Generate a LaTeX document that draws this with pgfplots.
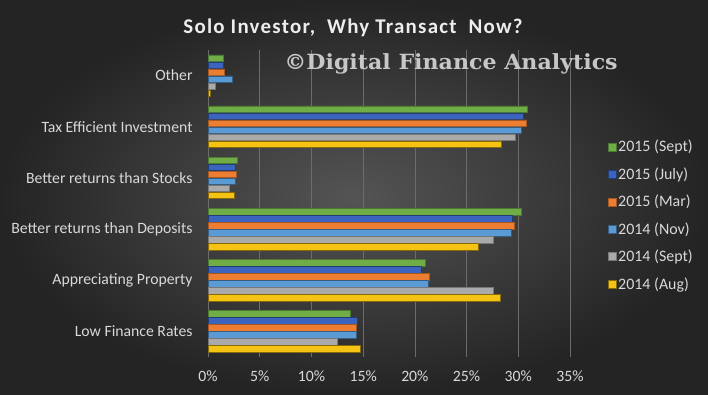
\documentclass[border=0pt]{standalone}
\usepackage{pgfplots}
\pgfplotsset{compat=1.18}
\usepackage{fontspec}
\setmainfont{Carlito}
\newfontfamily\wmfont{DejaVu Serif}
\definecolor{bgIn}{RGB}{84,84,84}
\definecolor{bgOut}{RGB}{36,36,36}
\definecolor{gridc}{RGB}{108,108,108}
\definecolor{labc}{RGB}{217,217,217}
\definecolor{cGreen}{RGB}{112,173,71}
\definecolor{cJuly}{RGB}{58,100,190}
\definecolor{cOrange}{RGB}{237,125,49}
\definecolor{cNov}{RGB}{91,155,213}
\definecolor{cGray}{RGB}{170,170,170}
\definecolor{cYellow}{RGB}{245,195,20}
\begin{document}
\begin{tikzpicture}
\shade[inner color=bgIn, outer color=bgOut] (0,0) rectangle (708bp,395bp);
\useasboundingbox (0,0) rectangle (708bp,395bp);
\begin{axis}[
  at={(208bp,38bp)}, anchor=south west,
  scale only axis, width=362bp, height=307bp,
  xbar, bar width=6.6bp,
  xmin=0, xmax=35, ymin=-0.5, ymax=5.5,
  xtick={0,5,...,35},
  /pgf/number format/assume math mode=true,
  xticklabel={\pgfmathprintnumber{\tick}\%},
  ytick={0,...,5},
  yticklabels={Low Finance Rates, Appreciating Property, Better returns than Deposits, Better returns than Stocks, Tax Efficient Investment, Other},
  xmajorgrids, major grid style={draw=gridc, line width=0.7bp},
  axis line style={draw=none}, tick style={draw=none},
  ticklabel style={font=\fontsize{15.8}{18}\selectfont, text=labc, inner sep=0pt},
  xticklabel style={anchor=north, yshift=-14bp},
  yticklabel style={anchor=east, xshift=-11bp},
  legend style={at={(axis description cs:1.104,0.713)}, anchor=north west, draw=none, fill=none,
    text=labc, font=\fontsize{16}{18}\selectfont, row sep=10.3bp, inner sep=0pt,
    cells={anchor=west}},
  legend image code/.code={\draw[#1, line width=0.4bp] (0bp,-4bp) rectangle (8bp,4bp);},
]
\addplot[fill=cGreen, draw=cGreen!70!black, line width=0.5bp, bar shift=17.5bp] coordinates {(13.8,0) (21.0,1) (30.3,2) (2.8,3) (30.9,4) (1.5,5)};
\addplot[fill=cJuly, draw=cJuly!60!black, line width=0.5bp, bar shift=10.5bp] coordinates {(14.4,0) (20.6,1) (29.4,2) (2.6,3) (30.5,4) (1.5,5)};
\addplot[fill=cOrange, draw=cOrange!70!black, line width=0.5bp, bar shift=3.5bp] coordinates {(14.3,0) (21.4,1) (29.6,2) (2.7,3) (30.8,4) (1.6,5)};
\addplot[fill=cNov, draw=cNov!60!black, line width=0.5bp, bar shift=-3.5bp] coordinates {(14.3,0) (21.3,1) (29.3,2) (2.6,3) (30.3,4) (2.3,5)};
\addplot[fill=cGray, draw=cGray!70!black, line width=0.5bp, bar shift=-10.5bp] coordinates {(12.5,0) (27.6,1) (27.6,2) (2.1,3) (29.7,4) (0.7,5)};
\addplot[fill=cYellow, draw=cYellow!55!black, line width=0.5bp, bar shift=-17.5bp] coordinates {(14.7,0) (28.3,1) (26.1,2) (2.5,3) (28.4,4) (0.2,5)};
\legend{2015 (Sept), 2015 (July), 2015 (Mar), 2014 (Nov), 2014 (Sept), 2014 (Aug)}
\end{axis}
\node[text=white!93!black, font=\fontsize{21}{23}\selectfont\bfseries\addfontfeatures{LetterSpace=6}] at (353bp,367bp) {Solo Investor,\ \ Why Transact\ \ Now?};
\node[text=white!78!black, font=\wmfont\fontsize{21}{23}\selectfont\bfseries] at (451bp,331bp) {\scalebox{1.057}[1]{©Digital Finance Analytics}};
\end{tikzpicture}
\end{document}
